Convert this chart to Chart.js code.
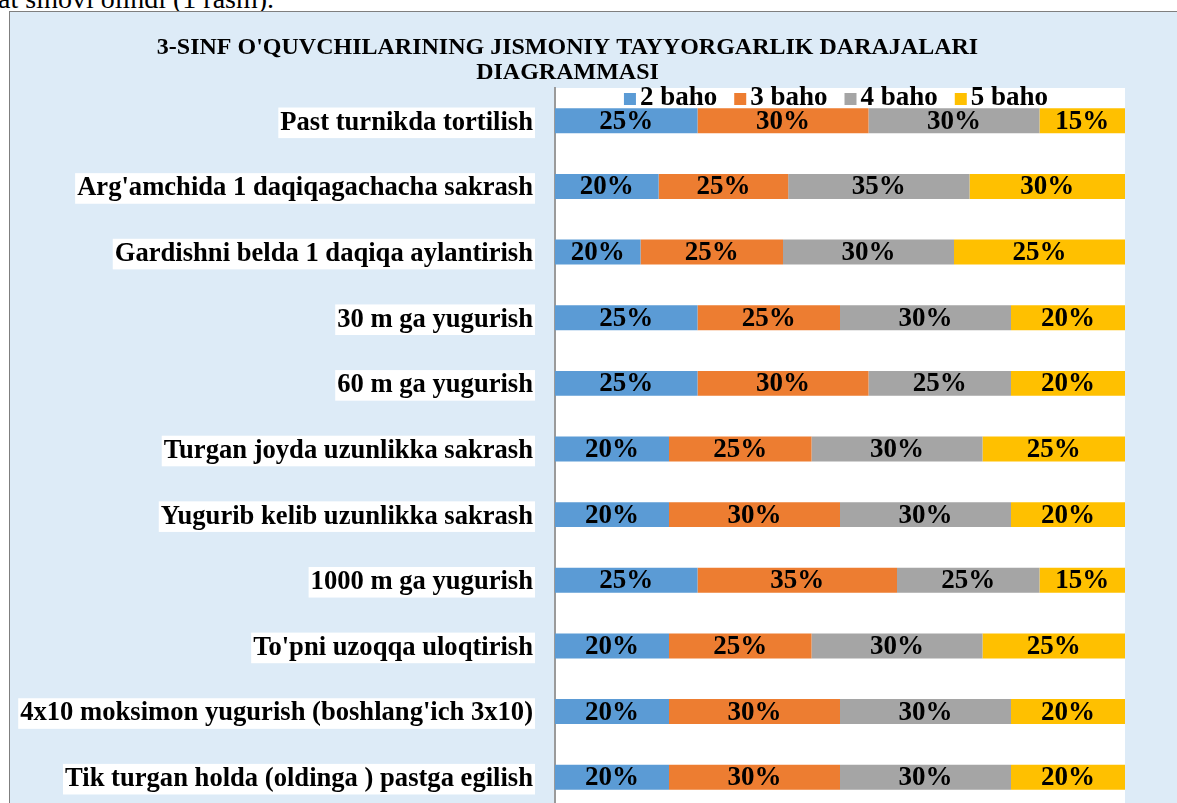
<!DOCTYPE html>
<html>
<head>
<meta charset="utf-8">
<script src="https://cdn.jsdelivr.net/npm/chart.js@4.4.1/dist/chart.umd.min.js"></script>
<style>
    body { margin: 0; width: 1177px; height: 803px; overflow: hidden; background: #fff; position: relative; font-family: 'Liberation Serif', serif; }
    #matn { position: absolute; left: -2px; top: -15px; font-size: 28px; line-height: 28px; white-space: nowrap; color: #000; }
    #quti { position: absolute; left: 9px; top: 11px; width: 1176px; height: 810px; background: #DDEBF7; border-left: 1px solid #7f7f7f; border-top: 1px solid #7f7f7f; }
</style>
</head>
<body>
<div id="matn">at sinovi olindi (1 rasm).</div>
<div id="quti"><canvas id="barChart" width="1176" height="810"></canvas></div>
<script>
var categories = [
    'Past turnikda tortilish',
    "Arg'amchida 1 daqiqagachacha sakrash",
    'Gardishni belda 1 daqiqa aylantirish',
    '30 m ga yugurish',
    '60 m ga yugurish',
    'Turgan joyda uzunlikka sakrash',
    'Yugurib kelib uzunlikka sakrash',
    '1000 m ga yugurish',
    "To'pni uzoqqa uloqtirish",
    "4x10 moksimon yugurish (boshlang'ich 3x10)",
    'Tik turgan holda (oldinga ) pastga egilish'
];
var seriesNames = ['2 baho', '3 baho', '4 baho', '5 baho'];

// bar lengths (each row is drawn as 100%)
var baho2 = [25, 20, 15, 25, 25, 20, 20, 25, 20, 20, 20];
var baho3 = [30, 25, 25, 25, 30, 25, 30, 35, 25, 30, 30];
var baho4 = [30, 35, 30, 30, 25, 30, 30, 25, 30, 30, 30];
var baho5 = [15, 30, 30, 20, 20, 25, 20, 15, 25, 20, 20];

// numbers written on the bars
var yozuv2 = [25, 20, 20, 25, 25, 20, 20, 25, 20, 20, 20];
var yozuv3 = [30, 25, 25, 25, 30, 25, 30, 35, 25, 30, 30];
var yozuv4 = [30, 35, 30, 30, 25, 30, 30, 25, 30, 30, 30];
var yozuv5 = [15, 30, 25, 20, 20, 25, 20, 15, 25, 20, 20];

var ranglar = ['#5B9BD5', '#ED7D31', '#A5A5A5', '#FFC000'];
var shrift = "'Liberation Serif', 'Times New Roman', serif";

var all = [baho2, baho3, baho4, baho5];
var yozuvlar = [yozuv2, yozuv3, yozuv4, yozuv5];
function ulush(arr) {
    return arr.map(function (v, i) {
        var s = baho2[i] + baho3[i] + baho4[i] + baho5[i];
        return v / s * 100;
    });
}

// white plot area
var oqFon = {
    id: 'oqFon',
    beforeDraw: function (chart) {
        var a = chart.chartArea, ctx = chart.ctx;
        ctx.save();
        ctx.fillStyle = '#fff';
        ctx.fillRect(a.left, a.top, a.right - a.left, chart.height - a.top);
        ctx.restore();
    }
};

// percent labels on the bars
var barYozuv = {
    id: 'barYozuv',
    afterDatasetsDraw: function (chart) {
        var ctx = chart.ctx;
        ctx.save();
        ctx.font = 'bold 27px ' + shrift;
        ctx.fillStyle = '#000';
        ctx.textAlign = 'center';
        ctx.textBaseline = 'middle';
        chart.data.datasets.forEach(function (ds, d) {
            chart.getDatasetMeta(d).data.forEach(function (bar, i) {
                var c = bar.getCenterPoint();
                ctx.fillText(ds.yozuv[i] + '%', c.x, c.y + 1);
            });
        });
        ctx.restore();
    }
};

// legend sitting on top of the plot area
var legenda = {
    id: 'legenda',
    afterDraw: function (chart) {
        var ctx = chart.ctx, a = chart.chartArea;
        ctx.save();
        ctx.font = 'bold 27px ' + shrift;
        ctx.textBaseline = 'middle';
        var box = 12, gap = 4, oraliq = 17;
        var enlar = chart.data.datasets.map(function (ds) { return ctx.measureText(ds.label).width; });
        var jami = enlar.reduce(function (s, w) { return s + box + gap + w; }, 0) + oraliq * (enlar.length - 1);
        var x = (a.left + a.right) / 2 - jami / 2 - 4;
        var y = a.top + 10;
        chart.data.datasets.forEach(function (ds, d) {
            ctx.fillStyle = ds.backgroundColor;
            ctx.fillRect(x, y - box / 2 + 1, box, box);
            ctx.fillStyle = '#000';
            ctx.fillText(ds.label, x + box + gap, y);
            x += box + gap + enlar[d] + oraliq;
        });
        ctx.restore();
    }
};

var ctx = document.getElementById('barChart').getContext('2d');
var myChart = new Chart(ctx, {
    type: 'bar',
    data: {
        labels: categories,
        datasets: all.map(function (arr, d) {
            return {
                label: seriesNames[d],
                data: ulush(arr),
                yozuv: yozuvlar[d],
                backgroundColor: ranglar[d],
                borderWidth: 0,
                categoryPercentage: 1,
                barPercentage: 0.38
            };
        })
    },
    options: {
        indexAxis: 'y',
        responsive: false,
        animation: false,
        layout: { padding: { left: 0, right: 61, top: 0, bottom: 12 } },
        plugins: {
            legend: { display: false },
            tooltip: { enabled: false },
            title: {
                display: true,
                text: ["3-SINF O'QUVCHILARINING JISMONIY TAYYORGARLIK DARAJALARI", 'DIAGRAMMASI'],
                color: '#000',
                font: { family: shrift, size: 24, weight: 'bold', lineHeight: 1.05 },
                padding: { top: 23, bottom: 2.6 }
            }
        },
        scales: {
            x: { display: false, stacked: true, min: 0, max: 100 },
            y: {
                stacked: true,
                grid: { display: false, drawTicks: false },
                border: { display: true, color: '#9a9a9a', width: 2 },
                ticks: {
                    color: '#000',
                    font: { family: shrift, size: 26.6, weight: 'bold', lineHeight: 1.15 },
                    padding: 22,
                    labelOffset: 2,
                    showLabelBackdrop: true,
                    backdropColor: '#fff',
                    backdropPadding: { top: 0, bottom: 0, left: 2, right: 2 }
                },
                afterFit: function (scale) {
                    scale.width = 545;
                    scale.paddingTop = 0;
                    scale.paddingBottom = 0;
                }
            }
        }
    },
    plugins: [oqFon, barYozuv, legenda]
});
</script>
</body>
</html>
